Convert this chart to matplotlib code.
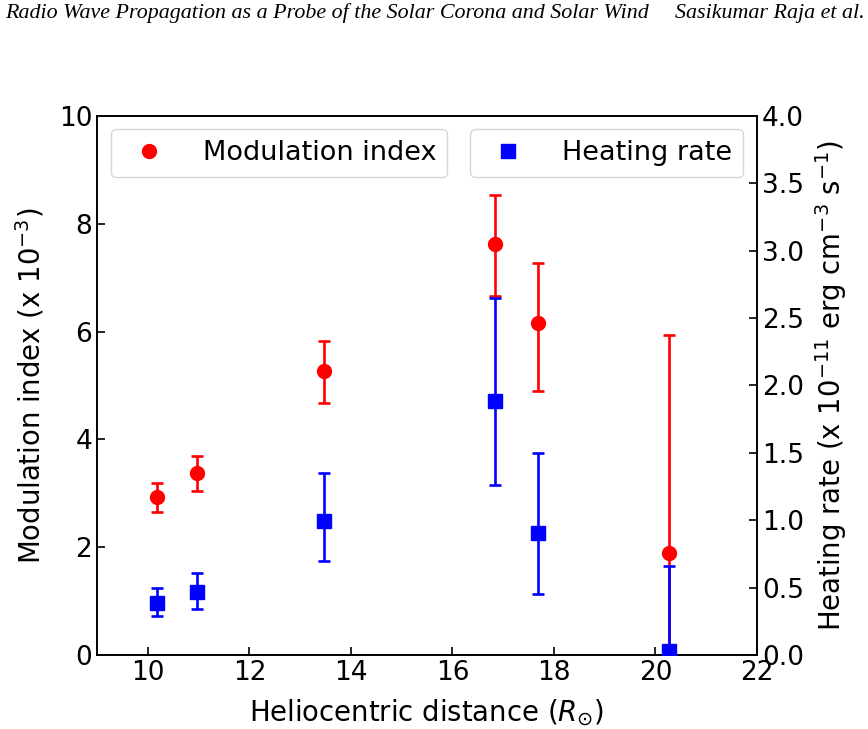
import matplotlib
matplotlib.use("Agg")
import matplotlib.pyplot as plt
from matplotlib.lines import Line2D
import numpy as np

distance = [10.18, 10.97, 13.46, 16.83, 17.69, 20.27]
mod_index = [2.94, 3.37, 5.26, 7.63, 6.15, 1.89]
mod_upper = [3.19, 3.70, 5.83, 8.53, 7.27, 5.94]
mod_lower = [2.66, 3.04, 4.68, 6.66, 4.89, -2.16]

heat_rate = [0.388, 0.465, 0.997, 1.885, 0.907, 0.03]
heat_upper = [0.50, 0.61, 1.35, 2.65, 1.50, 0.66]
heat_lower = [0.29, 0.34, 0.70, 1.26, 0.45, -0.60]

x_ticks = [10, 12, 14, 16, 18, 20, 22]
left_ticks = [0, 2, 4, 6, 8, 10]
right_ticks = [0.0, 0.5, 1.0, 1.5, 2.0, 2.5, 3.0, 3.5, 4.0]

plt.rcParams['font.family'] = ['DejaVu Sans']
plt.rcParams['mathtext.fontset'] = 'dejavusans'

fig = plt.figure(figsize=(8.68, 7.29), dpi=100)
ax = fig.add_axes([0.112, 0.1015, 0.76, 0.7395])
ax2 = ax.twinx()

mi = np.array(mod_index)
m_err = [mi - np.array(mod_lower), np.array(mod_upper) - mi]
ax.errorbar(distance, mod_index, yerr=m_err, fmt='o', color='red', ms=10,
            elinewidth=1.9, capsize=4.5, capthick=1.9, zorder=3)

hr = np.array(heat_rate)
h_err = [hr - np.array(heat_lower), np.array(heat_upper) - hr]
ax2.errorbar(distance, heat_rate, yerr=h_err, fmt='s', color='blue', ms=10,
             elinewidth=1.9, capsize=4.5, capthick=1.9, zorder=3)

ax.set_xlim(9, 22)
ax.set_ylim(0, 10)
ax2.set_ylim(0, 4.0)
ax.set_xticks(x_ticks)
ax.set_yticks(left_ticks)
ax2.set_yticks(right_ticks)
ax2.set_yticklabels([f"{v:.1f}" for v in right_ticks])

fs_tick = 19
fs_lab = 19.8
fs_leg = 19.5
ax.tick_params(direction='in', length=6, width=1.2, labelsize=fs_tick)
ax2.tick_params(direction='in', length=6, width=1.2, labelsize=fs_tick)
for a in (ax, ax2):
    for s in a.spines.values():
        s.set_linewidth(1.2)

ax.set_xlabel(r"Heliocentric distance ($R_{\odot}$)", fontsize=fs_lab, labelpad=8)
ax.set_ylabel(r"Modulation index (x 10$^{-3}$)", fontsize=fs_lab, labelpad=9)
ax2.set_ylabel(r"Heating rate (x 10$^{-11}$ erg cm$^{-3}$ s$^{-1}$)", fontsize=fs_lab, labelpad=7)

h1 = Line2D([], [], marker='o', color='red', ls='none', ms=10)
h2 = Line2D([], [], marker='s', color='blue', ls='none', ms=10)
leg1 = ax2.legend([h1], ["Modulation index"], loc='upper left', fontsize=fs_leg,
                  handletextpad=1.0)
ax2.add_artist(leg1)
ax2.legend([h2], ["Heating rate"], loc='upper right', fontsize=fs_leg,
           handletextpad=1.0)

fig.text(0.006, 0.982, "Radio Wave Propagation as a Probe of the Solar Corona and Solar Wind",
         family='Liberation Serif', style='italic', fontsize=15.8, va='center', ha='left')
fig.text(0.996, 0.982, "Sasikumar Raja et al.",
         family='Liberation Serif', style='italic', fontsize=15.8, va='center', ha='right')

fig.savefig("out.png", dpi=100)
